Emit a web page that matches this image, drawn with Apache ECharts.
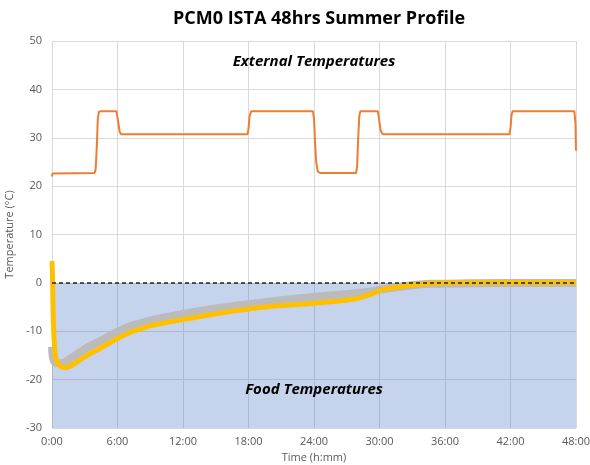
<!DOCTYPE html>
<html><head><meta charset="utf-8">
<script src="https://cdn.jsdelivr.net/npm/echarts@6/dist/echarts.min.js"></script>
<style>html,body{margin:0;padding:0;background:#fff}#c{width:590px;height:465px}</style>
</head><body><div id="c"></div>
<script>
var titleText = 'PCM0 ISTA 48hrs Summer Profile';
var xTicks = [0, 6, 12, 18, 24, 30, 36, 42, 48];
var yTicks = [-30, -20, -10, 0, 10, 20, 30, 40, 50];
// External temperature [hours, °C]
var externalTemp = [[0,22.0],[0.05,22.6],[3.9,22.7],[4.0,23.5],[4.1,28],[4.2,34],[4.3,35.4],[4.5,35.5],[5.9,35.5],[6.05,33.5],[6.2,31.2],[6.35,30.7],[17.9,30.7],[18.0,31.8],[18.1,34.5],[18.25,35.5],[23.9,35.5],[24.0,34],[24.1,29],[24.2,25],[24.35,23.0],[24.6,22.7],[27.85,22.7],[27.95,24],[28.05,30],[28.15,34.5],[28.25,35.5],[29.85,35.5],[29.95,34],[30.1,31.5],[30.3,30.7],[41.9,30.7],[42.0,32],[42.1,34.8],[42.2,35.5],[47.85,35.5],[47.95,33],[48,27.3]];
// Food temperature (product 1, yellow) [hours, °C]
var foodTemp1 = [[0,4.5],[0.05,1],[0.1,-6],[0.2,-12],[0.35,-15.5],[0.6,-16.9],[1.1,-17.5],[1.6,-17.3],[3,-15.3],[4.5,-13.4],[6,-11.5],[7,-10.4],[8,-9.6],[9,-8.9],[10,-8.4],[12,-7.6],[15,-6.4],[18,-5.4],[21,-4.7],[24,-4.2],[26,-3.8],[27.6,-3.4],[28.5,-2.9],[29.4,-2.2],[30.3,-1.4],[32.2,-0.7],[34.8,-0.1],[36,0.05],[40,0.1],[44,0.1],[48,0.1]];
// Food temperature (product 2, grey) [hours, °C]
var foodTemp2 = [[0,-13.2],[0.1,-15.5],[0.3,-16.5],[0.7,-16.6],[1.2,-16.4],[3,-13.7],[4.5,-11.9],[6,-10.1],[7,-9.1],[8,-8.4],[9,-7.8],[10,-7.3],[12,-6.4],[15,-5.3],[18,-4.4],[21,-3.6],[24,-2.9],[27.6,-2.2],[29.4,-1.7],[30.3,-1.3],[32.2,-0.7],[34.8,-0.2],[38,-0.1],[48,0]];
var frozenZone = [0, -30];

var font = '"Open Sans", sans-serif';
var chart = echarts.init(document.getElementById('c'));
chart.setOption({
  animation: false,
  title: { text: titleText, left: 314, textAlign: 'center', top: 5,
    textStyle: { fontFamily: font, fontWeight: 'bold', fontSize: 18, color: '#000' } },
  grid: { left: 52, right: 14, top: 41, bottom: 37, outerBoundsMode: 'none', containLabel: false },
  xAxis: { type: 'value', min: 0, max: 48, interval: 6,
    name: 'Time (h:mm)', nameLocation: 'middle', nameGap: 24,
    nameTextStyle: { fontFamily: font, fontSize: 11, color: '#595959' },
    axisLine: { show: false }, axisTick: { show: false },
    axisLabel: { fontFamily: font, fontSize: 11, color: '#595959', margin: 8,
      formatter: function (v) { return v + ':00'; } },
    splitLine: { show: true, lineStyle: { color: '#d9d9d9', width: 1 } } },
  yAxis: { type: 'value', min: -30, max: 50, interval: 10,
    name: 'Temperature (°C)', nameLocation: 'middle', nameGap: 32,
    nameTextStyle: { fontFamily: font, fontSize: 11, color: '#595959' },
    axisLine: { show: false }, axisTick: { show: false },
    axisLabel: { fontFamily: font, fontSize: 11, color: '#595959', margin: 10 },
    splitLine: { show: true, lineStyle: { color: '#d9d9d9', width: 1 } } },
  graphic: [
    { type: 'text', x: 314, y: 62, z: 100, style: { text: 'External Temperatures', fontFamily: font,
      fontSize: 15, fontWeight: 'bold', fontStyle: 'italic', fill: '#000', align: 'center', verticalAlign: 'middle' } },
    { type: 'text', x: 314, y: 390, z: 100, style: { text: 'Food Temperatures', fontFamily: font,
      fontSize: 15, fontWeight: 'bold', fontStyle: 'italic', fill: '#000', align: 'center', verticalAlign: 'middle' } }
  ],
  series: [
    { type: 'line', data: [], z: 1, silent: true,
      markArea: { silent: true, itemStyle: { color: 'rgba(68,114,196,0.31)' },
        data: [[{ xAxis: 0, yAxis: frozenZone[0] }, { xAxis: 48, yAxis: frozenZone[1] }]] } },
    { type: 'line', data: externalTemp, showSymbol: false, z: 3,
      lineStyle: { color: '#ED7D31', width: 2 } },
    { type: 'line', data: foodTemp2, showSymbol: false, smooth: 0.3, z: 3,
      lineStyle: { color: '#BBBBBB', width: 8 } },
    { type: 'line', data: foodTemp1, showSymbol: false, smooth: 0.3, z: 4,
      lineStyle: { color: '#FFC000', width: 5 } },
    { type: 'line', data: [], z: 5,
      markLine: { silent: true, symbol: 'none', label: { show: false },
        lineStyle: { color: '#222', type: [4, 3], width: 1.5 },
        data: [{ yAxis: 0 }] } }
  ]
});
</script></body></html>
